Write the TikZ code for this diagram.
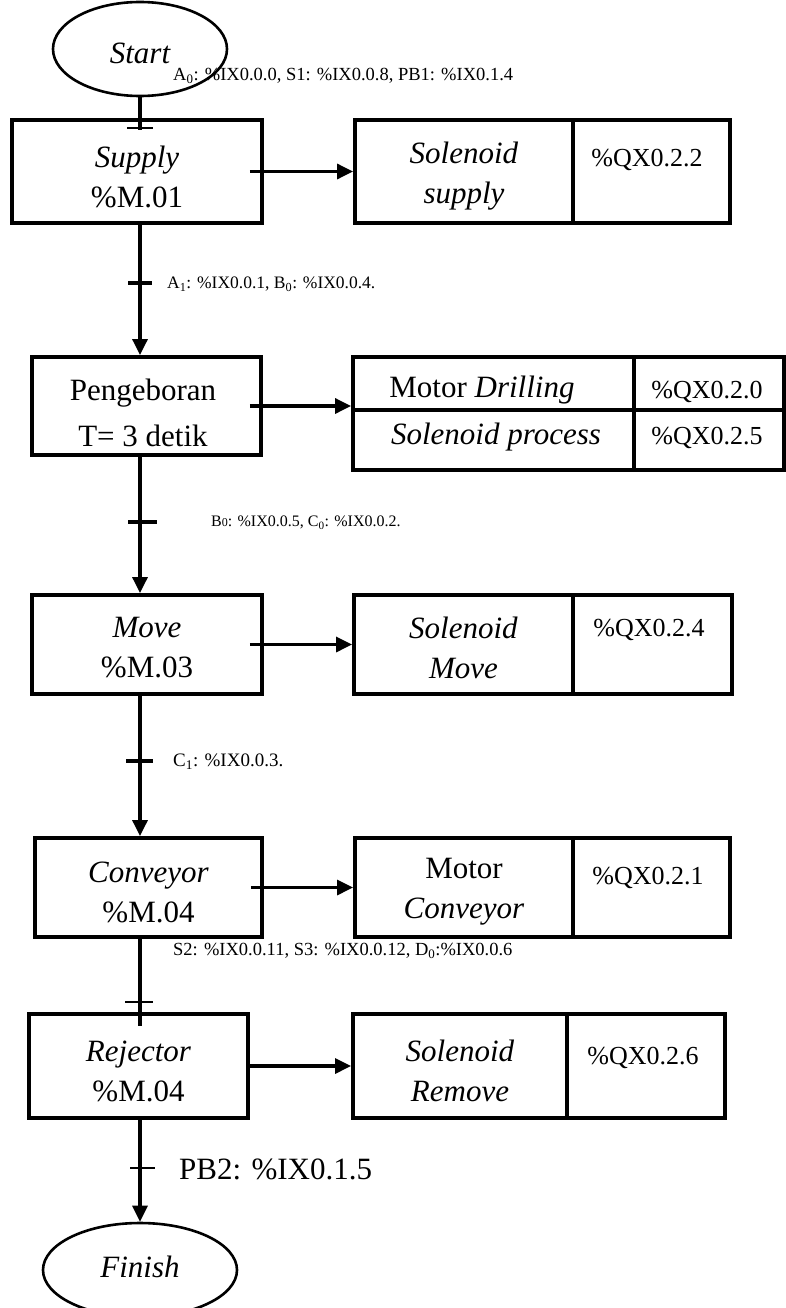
\documentclass[tikz,border=0pt]{standalone}
\usepackage{fontspec}
\setmainfont{Liberation Serif}
\usetikzlibrary{arrows.meta,shapes.geometric,calc}
\begin{document}
\begin{tikzpicture}[x=1pt,y=-1pt,
  stepbox/.style={draw, line width=3.8pt, inner sep=0pt},
  cell/.style={draw, line width=3.8pt, inner sep=0pt},
  txt/.style={inner sep=0pt, align=center, font=\fontsize{31}{40}\selectfont},
  addr/.style={inner sep=0pt, font=\fontsize{26}{30}\selectfont},
  term/.style={draw, ellipse, line width=2.6pt, inner sep=0pt},
  conn/.style={line width=3.1pt},
  arr/.style={conn, -{Triangle[length=16pt,width=15pt]}},
  tickthin/.style={line width=2.2pt},
  tickthick/.style={line width=4pt},
  cond/.style={inner sep=0pt, anchor=west}]
\useasboundingbox (0,0) rectangle (786,1308);

% terminals
\node[term, minimum width=174pt, minimum height=94pt] (start) at (140,49) {};
\node[txt, font=\fontsize{31}{36}\selectfont\itshape] (startt) at (140,53) {Start};
\node[term, minimum width=194pt, minimum height=94pt] (finish) at (140,1270) {};
\node[txt, font=\fontsize{31}{36}\selectfont\itshape] (finisht) at (140,1267) {Finish};

% steps
\node[stepbox, minimum width=250pt, minimum height=103pt] (supply) at (137,171.5) {};
\node[txt] (supplyt) at (137,177) {\textit{Supply}\\\%M.01};
\node[stepbox, minimum width=229pt, minimum height=98pt] (peng) at (146.5,406) {};
\node[txt, font=\fontsize{31}{46}\selectfont] (pengt) at (143,413) {Pengeboran\\T= 3 detik};
\node[stepbox, minimum width=230pt, minimum height=99pt] (move) at (147,644.5) {};
\node[txt] (movet) at (147,647.5) {\textit{Move}\\\%M.03};
\node[stepbox, minimum width=227pt, minimum height=99pt] (conv) at (148.5,887.5) {};
\node[txt] (convt) at (148.5,892.5) {\textit{Conveyor}\\\%M.04};
\node[stepbox, minimum width=219pt, minimum height=104pt] (rej) at (138.5,1066) {};
\node[txt] (rejt) at (138.5,1071) {\textit{Rejector}\\\%M.04};

% actions
\node[cell, minimum width=218pt, minimum height=103pt] (a1l) at (464,171.5) {};
\node[txt] (a1lt) at (464,176) {\textit{Solenoid}\\\textit{supply}};
\node[cell, minimum width=157pt, minimum height=103pt] (a1r) at (651.5,171.5) {};
\node[addr] (a1t) at (647,160) {\%QX0.2.2};

\node[cell, minimum width=281pt, minimum height=53pt] (c1) at (493.5,383.5) {};
\node[txt] (c1t) at (482,390) {Motor \textit{Drilling}};
\node[cell, minimum width=150pt, minimum height=53pt] (c2) at (709,383.5) {};
\node[addr] (c2t) at (707,392) {\%QX0.2.0};
\node[cell, minimum width=281pt, minimum height=60pt] (c3) at (493.5,440) {};
\node[txt] (c3t) at (496,437) {\textit{Solenoid process}};
\node[cell, minimum width=150pt, minimum height=60pt] (c4) at (709,440) {};
\node[addr] (c4t) at (707,438) {\%QX0.2.5};

\node[cell, minimum width=219pt, minimum height=99pt] (a3l) at (463.5,644.5) {};
\node[txt] (a3lt) at (463.5,647.5) {\textit{Solenoid}\\\textit{Move}};
\node[cell, minimum width=159pt, minimum height=99pt] (a3r) at (652.5,644.5) {};
\node[addr] (a3t) at (649,630) {\%QX0.2.4};

\node[cell, minimum width=218pt, minimum height=99pt] (a4l) at (464,887.5) {};
\node[txt] (a4lt) at (464,892) {Motor\\\textit{Conveyor}};
\node[cell, minimum width=157pt, minimum height=99pt] (a4r) at (651.5,887.5) {};
\node[addr] (a4t) at (648,878) {\%QX0.2.1};

\node[cell, minimum width=214pt, minimum height=104pt] (a5l) at (460,1066) {};
\node[txt] (a5lt) at (460,1071) {\textit{Solenoid}\\\textit{Remove}};
\node[cell, minimum width=158pt, minimum height=104pt] (a5r) at (646,1066) {};
\node[addr] (a5t) at (643,1058) {\%QX0.2.6};

% transition points
\coordinate (t0) at (140,128);
\coordinate (t1) at (140,283);
\coordinate (t2) at (140,522);
\coordinate (t3) at (140,761);
\coordinate (t4) at (140,1002);
\coordinate (t5) at (140,1168);

% vertical connectors
\draw[conn] (start.south) -- ([yshift=-12pt]t0 |- supply.north);
\draw[arr] (t1 |- supply.south) -- (t1 |- peng.north);
\draw[arr] (t2 |- peng.south) -- (t2 |- move.north);
\draw[arr] (t3 |- move.south) -- (t3 |- conv.north);
\draw[conn] (t4 |- conv.south) -- ([yshift=-14pt]t4 |- rej.north);
\draw[arr] (t5 |- rej.south) -- (finish.north);

% ticks
\draw[tickthin] ([xshift=-13pt]t0) -- ([xshift=13pt]t0);
\draw[tickthick] ([xshift=-12pt]t1) -- ([xshift=12pt]t1);
\draw[tickthick] ([xshift=-12pt]t2) -- ([xshift=17pt]t2);
\draw[tickthick] ([xshift=-14pt]t3) -- ([xshift=13pt]t3);
\draw[tickthin] ([xshift=-15pt]t4) -- ([xshift=13pt]t4);
\draw[tickthin] ([xshift=-10pt]t5) -- ([xshift=15pt]t5);

% horizontal arrows
\draw[arr] ([xshift=-14pt]supply.east) -- (supply.east -| a1l.west);
\draw[arr] ([xshift=-13pt]peng.east) -- (peng.east -| c1.west);
\draw[arr] ([xshift=-14pt]move.east) -- (move.east -| a3l.west);
\draw[arr] ([xshift=-13pt]conv.east) -- (conv.east -| a4l.west);
\draw[arr] (rej.east) -- (rej.east -| a5l.west);

% conditions
\node[cond, font=\fontsize{18.5}{20}\selectfont] (l0) at (173,76) {A\textsubscript{0}: \%IX0.0.0, S1: \%IX0.0.8, PB1: \%IX0.1.4};
\node[cond, font=\fontsize{17.5}{20}\selectfont] (l1) at (167,284) {A\textsubscript{1}: \%IX0.0.1, B\textsubscript{0}: \%IX0.0.4.};
\node[cond, font=\fontsize{16}{18}\selectfont] (l2) at (211,523) {B{\fontsize{12}{12}\selectfont 0}: \%IX0.0.5, C\textsubscript{0}: \%IX0.0.2.};
\node[cond, font=\fontsize{19}{21}\selectfont] (l3) at (173,762) {C\textsubscript{1}: \%IX0.0.3.};
\node[cond, font=\fontsize{18.5}{20}\selectfont] (l4) at (173,951) {S2: \%IX0.0.11, S3: \%IX0.0.12, D\textsubscript{0}:\%IX0.0.6};
\node[cond, font=\fontsize{31}{34}\selectfont] (l5) at (179,1169) {PB2: \%IX0.1.5};
\end{tikzpicture}
\end{document}
